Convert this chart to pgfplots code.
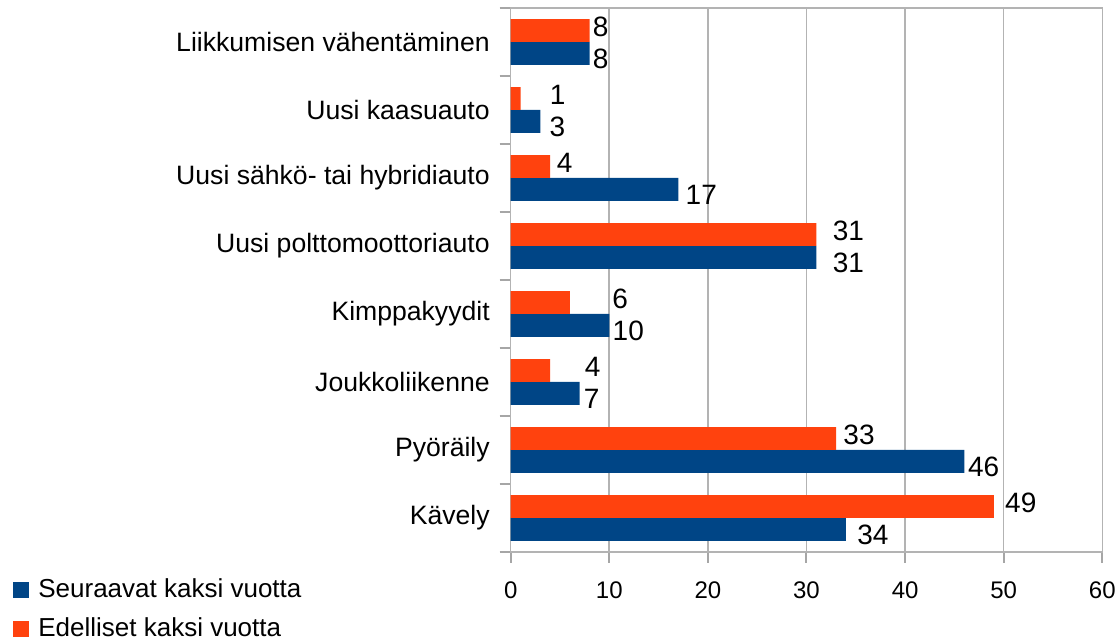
\documentclass[border=0pt]{standalone}
\usepackage{pgfplots}
\pgfplotsset{compat=1.18}
\usepackage{fontspec}
\setmainfont{Liberation Sans}
\definecolor{sblue}{HTML}{004586}
\definecolor{sorange}{HTML}{FF420E}
\definecolor{gridgray}{HTML}{B3B3B3}
\definecolor{tickgray}{HTML}{A6A6A6}

\begin{document}
\begin{tikzpicture}
\useasboundingbox (-255.35pt,-44.5pt) rectangle (303.65pt,276pt);
\begin{axis}[
    at={(0pt,0pt)}, anchor=south west,
    scale only axis, width=295.8pt, height=272pt,
    xbar, bar width=0.338,
    xmin=0, xmax=60, ymin=-0.5, ymax=7.5,
    xtick={0,10,...,60},
    % ticks sit on the category borders, labels are lifted to the middle
    ytick={-0.5,0.5,...,7.5},
    yticklabels={Kävely, Pyöräily, Joukkoliikenne, Kimppakyydit, Uusi polttomoottoriauto, Uusi sähkö- tai hybridiauto, Uusi kaasuauto, Liikkumisen vähentäminen, {}},
    xtick pos=left, ytick pos=left,
    axis line style={gridgray, line width=0.8pt},
    xmajorgrids, grid style={gridgray, line width=0.8pt},
    tick align=outside, major tick length=5.5pt,
    major tick style={draw=tickgray, line width=1pt},
    yticklabel style={font=\fontsize{13.3}{15}\selectfont, inner sep=0pt, xshift=-4.8pt, yshift=17pt},
    xticklabel style={font=\fontsize{12}{14}\selectfont, inner sep=0pt, yshift=-9pt},
    /pgf/number format/assume math mode=true,
    point meta=x,
    nodes near coords,
    visualization depends on={\thisrow{dx} \as \dx},
    nodes near coords style={font=\fontsize{14}{16}\selectfont, anchor=west, inner sep=0pt, xshift=\dx pt},
    legend style={at={(axis description cs:-0.8413,-0.049)}, anchor=north west,
        draw=none, fill=none, inner sep=0pt, row sep=8.5pt, column sep=4.5pt,
        font=\fontsize{13}{15}\selectfont, nodes={inner sep=0pt}},
    legend cell align=left,
    legend image code/.code={\fill[#1] (0pt,-4pt) rectangle (8pt,4pt);},
]
% Seuraavat kaksi vuotta
\addplot[fill=sblue, draw=none, bar shift=-0.169,
    every node near coord/.append style={yshift=-2.5pt}] table[x=x, y=y] {
y x dx
0 34 5.5
1 46 1.7
2 7 1.9
3 10 1.5
4 31 8
5 17 3.5
6 3 4.5
7 8 1.5
};
% Edelliset kaksi vuotta
\addplot[fill=sorange, draw=none, bar shift=0.169,
    every node near coord/.append style={yshift=2pt}] table[x=x, y=y] {
y x dx
0 49 5.5
1 33 3.5
2 4 17.2
3 6 21
4 31 8
5 4 3.2
6 1 14.5
7 8 1.5
};
\legend{Seuraavat kaksi vuotta, Edelliset kaksi vuotta}
\end{axis}
\end{tikzpicture}
\end{document}
